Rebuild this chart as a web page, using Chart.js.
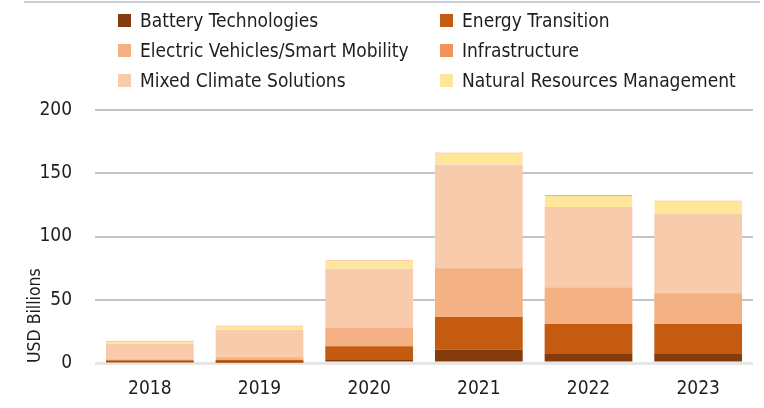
<!DOCTYPE html>
<html>
<head>
<meta charset="utf-8">
<script src="https://cdn.jsdelivr.net/npm/chart.js@4/dist/chart.umd.min.js"></script>
<style>
  html, body { margin: 0; padding: 0; background: #ffffff; }
  #wrap { position: relative; width: 764px; height: 408px; overflow: hidden; }
  #topline { position: absolute; left: 24px; top: 1px; width: 736px; height: 2px; background: #c9cdd7; }
  #legend { position: absolute; left: 0; top: 0; width: 764px; height: 100px; font-family: "DejaVu Sans Condensed", "Liberation Sans", sans-serif; font-size: 19px; color: #1e1e1e; }
  .li { position: absolute; white-space: nowrap; line-height: 26px; height: 26px; }
  .li .bx { position: absolute; left: 0; top: 7px; width: 13px; height: 13px; }
  .li .tx { position: absolute; left: 22px; top: 0; }
</style>
</head>
<body>
<div id="wrap">
  <canvas id="c" width="764" height="408"></canvas>
  <div id="topline"></div>
  <div id="legend"></div>
</div>
<script>
const categories = ["2018", "2019", "2020", "2021", "2022", "2023"];
const seriesNames = ["Battery Technologies", "Energy Transition", "Electric Vehicles/Smart Mobility", "Infrastructure", "Mixed Climate Solutions", "Natural Resources Management"];
const batteryTechnologies = [0.5, 0.3, 2.9, 10.6, 7.1, 7.1];
const energyTransition = [1.6, 2.1, 10.3, 25.8, 23.7, 23.7];
const electricVehicles = [0.8, 2.1, 14.5, 37.9, 28.8, 24.3];
const infrastructure = [0.1, 0.1, 0.2, 0.5, 0.2, 0.2];
const mixedClimate = [12.1, 21.6, 46.7, 82.2, 63.5, 62.4];
const naturalResources = [2.5, 3.5, 6.6, 9.5, 9.5, 10.8];
const yTicks = [0, 50, 100, 150, 200];

const colors = ["#843c0c", "#c55a11", "#f4b183", "#f0955a", "#f8cbad", "#ffe699"];
const values = [batteryTechnologies, energyTransition, electricVehicles, infrastructure, mixedClimate, naturalResources];

const FONT = '"DejaVu Sans Condensed", "Liberation Sans", sans-serif';

const datasets = seriesNames.map((name, i) => ({
  label: name,
  data: values[i],
  backgroundColor: colors[i],
  borderColor: i === 5 ? "#f7a98a" : colors[i],
  borderWidth: i === 5 ? { top: 1, left: 0, right: 0, bottom: 0 } : 0,
  borderSkipped: false,
  barPercentage: 0.8,
  categoryPercentage: 1.0,
  stack: "s"
}));

const chart = new Chart(document.getElementById("c"), {
  type: "bar",
  data: { labels: categories, datasets: datasets },
  options: {
    responsive: false,
    animation: false,
    devicePixelRatio: 1,
    layout: { padding: { top: 110, right: 11, bottom: 0, left: 0 } },
    plugins: { legend: { display: false }, tooltip: { enabled: false } },
    scales: {
      x: {
        stacked: true,
        grid: { display: false, drawTicks: false },
        border: { display: false },
        ticks: { color: "#1e1e1e", font: { family: FONT, size: 19 }, padding: 15, maxRotation: 0 },
        afterFit: (s) => { s.height = 45; }
      },
      y: {
        stacked: true,
        min: 0,
        max: 200,
        afterBuildTicks: (s) => { s.ticks = yTicks.map(v => ({ value: v })); },
        grid: {
          drawTicks: false,
          lineWidth: (ctx) => ctx.tick && ctx.tick.value === 0 ? 3 : 2,
          color: (ctx) => ctx.tick && ctx.tick.value === 0 ? "#e6e6e6" : "#c4c4c4"
        },
        border: { display: false },
        ticks: { color: "#1e1e1e", font: { family: FONT, size: 19 }, padding: 23 },
        title: { display: true, text: "USD Billions", align: "start", color: "#1e1e1e", font: { family: FONT, size: 17.5 }, padding: { top: 25, bottom: 0 } },
        afterFit: (s) => { s.width = 95; }
      }
    }
  }
});

// HTML legend in two fixed columns, built from the chart's datasets
const legendPos = [[118, 7], [440, 7], [118, 37], [440, 37], [118, 67], [440, 67]];
const lg = document.getElementById("legend");
chart.data.datasets.forEach((ds, i) => {
  const el = document.createElement("div");
  el.className = "li";
  el.style.left = legendPos[i][0] + "px";
  el.style.top = legendPos[i][1] + "px";
  const bx = document.createElement("span");
  bx.className = "bx";
  bx.style.background = ds.backgroundColor;
  const tx = document.createElement("span");
  tx.className = "tx";
  tx.textContent = ds.label;
  el.appendChild(bx); el.appendChild(tx);
  lg.appendChild(el);
});
</script>
</body>
</html>
